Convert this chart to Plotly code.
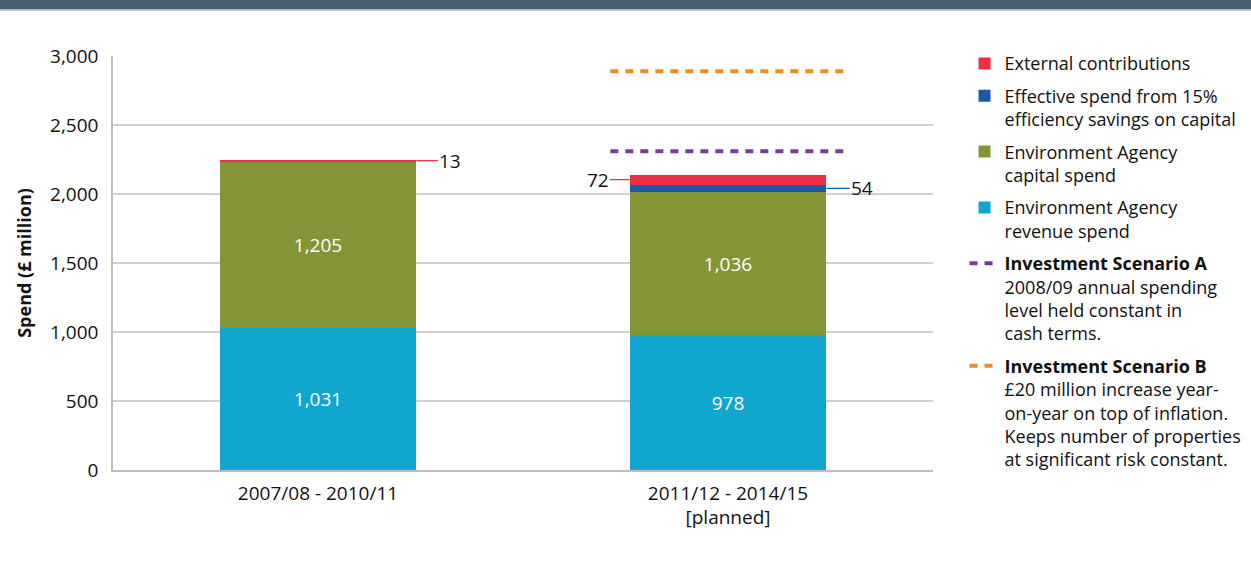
import plotly.graph_objects as go

# data (£ million)
periods = ["2007/08 - 2010/11", "2011/12 - 2014/15<br>[planned]"]
revenue = [1031, 978]
capital = [1205, 1036]
efficiency = [0, 54]
external = [13, 72]
scenario_a = 2310
scenario_b = 2890

COLORS = {
    "red": "#ec2f45",
    "blue": "#1b5ba6",
    "olive": "#849538",
    "cyan": "#10a6cf",
    "purple": "#7d3a98",
    "orange": "#f08a26",
    "grid": "#d0d0d0",
    "header": "#4b5d6b",
}
FONT = "'Open Sans', 'Noto Sans', sans-serif"
BAR_W = 0.48

xs = list(range(len(periods)))
fig = go.Figure()

# stacked bars, bottom to top
fig.add_trace(go.Bar(
    x=xs, y=revenue, width=BAR_W, name="Environment Agency<br>revenue spend",
    marker=dict(color=COLORS["cyan"], line=dict(width=0)), legendrank=4,
    text=[f"{v:,}" for v in revenue], textposition="inside", insidetextanchor="middle",
    textfont=dict(color="white", size=19), legendgroup="rev",
))
fig.add_trace(go.Bar(
    x=xs, y=capital, width=BAR_W, name="Environment Agency<br>capital spend",
    marker=dict(color=COLORS["olive"], line=dict(width=0)), legendrank=3,
    text=[f"{v:,}" for v in capital], textposition="inside", insidetextanchor="middle",
    textfont=dict(color="white", size=19), legendgroup="cap",
))
fig.add_trace(go.Bar(
    x=xs, y=efficiency, width=BAR_W,
    name="Effective spend from 15%<br>efficiency savings on capital",
    marker=dict(color=COLORS["blue"], line=dict(width=0)), legendrank=2,
    legendgroup="eff",
))
fig.add_trace(go.Bar(
    x=xs, y=external, width=BAR_W, name="External contributions",
    marker=dict(color=COLORS["red"], line=dict(width=0)), legendrank=1,
    legendgroup="ext",
))

# scenario lines over the planned period
half = 0.287
fig.add_trace(go.Scatter(
    x=[xs[1] - half, xs[1] + half], y=[scenario_a, scenario_a], mode="lines",
    line=dict(color=COLORS["purple"], width=4, dash="8px,7px"),
    name="<b>Investment Scenario A</b><br>2008/09 annual spending<br>level held constant in<br>cash terms.",
    legendrank=5, legendgroup="a",
))
fig.add_trace(go.Scatter(
    x=[xs[1] - half, xs[1] + half], y=[scenario_b, scenario_b], mode="lines",
    line=dict(color=COLORS["orange"], width=4, dash="8px,7px"),
    name="<b>Investment Scenario B</b><br>£20 million increase year-<br>on-year on top of inflation.<br>Keeps number of properties<br>at significant risk constant.",
    legendrank=6, legendgroup="b",
))

# small-segment labels with leader lines
tops0 = revenue[0] + capital[0] + efficiency[0]
tops1 = revenue[1] + capital[1]
fig.add_annotation(x=xs[0] + BAR_W / 2, y=tops0 + external[0] / 2, text=str(external[0]),
                   showarrow=True, arrowhead=0, arrowwidth=1.2, arrowcolor=COLORS["red"],
                   ax=34, ay=0, font=dict(size=19, color="#111"))
fig.add_annotation(x=xs[1] - BAR_W / 2, y=tops1 + efficiency[1] + external[1] / 2,
                   text=str(external[1]), showarrow=True, arrowhead=0, arrowwidth=1.2,
                   arrowcolor=COLORS["red"], ax=-32, ay=0, font=dict(size=19, color="#111"))
fig.add_annotation(x=xs[1] + BAR_W / 2, y=tops1 + efficiency[1] / 2,
                   text=str(efficiency[1]), showarrow=True, arrowhead=0, arrowwidth=1.2,
                   arrowcolor=COLORS["blue"], ax=36, ay=0, font=dict(size=19, color="#111"))

# header strip
fig.add_shape(type="rect", xref="paper", yref="paper", x0=-0.2, x1=1.5,
              y0=1.113, y1=1.2, fillcolor=COLORS["header"], line=dict(width=0), layer="below")
fig.add_shape(type="line", xref="paper", yref="paper", x0=-0.2, x1=1.5,
              y0=1.111, y1=1.111, line=dict(color="#aab4bb", width=1.5), layer="below")

fig.update_layout(
    barmode="stack",
    width=1251, height=572,
    margin=dict(l=113, r=318, t=56, b=102, autoexpand=False),
    paper_bgcolor="white", plot_bgcolor="white",
    font=dict(family=FONT, size=19, color="#111"),
    bargap=0,
    legend=dict(
        xref="container", yref="container", x=0.771, y=0.921,
        xanchor="left", yanchor="top", traceorder="grouped", valign="top",
        tracegroupgap=6, font=dict(size=18, color="#111"), bgcolor="rgba(0,0,0,0)",
        itemwidth=30, maxheight=1.0,
    ),
    xaxis=dict(
        tickmode="array", tickvals=xs, ticktext=periods, range=[-0.5, 1.5],
        showgrid=False, showline=True, linecolor="#bdbdbd", linewidth=1.5,
        ticks="", tickfont=dict(size=19), ticklabelstandoff=5,
    ),
    yaxis=dict(
        range=[0, 3000], tickvals=[0, 500, 1000, 1500, 2000, 2500, 3000],
        tickformat=",", showgrid=True, gridcolor=COLORS["grid"], gridwidth=1.5,
        showline=True, linecolor="#bdbdbd", linewidth=1.5, zeroline=False,
        ticks="", ticklabelstandoff=9, tickfont=dict(size=19),
        title=dict(text="<b>Spend (£ million)</b>", font=dict(size=18), standoff=14),
    ),
)

fig.write_html("out.html", config={"displayModeBar": False},
               post_script="document.body.style.margin = '0';")
